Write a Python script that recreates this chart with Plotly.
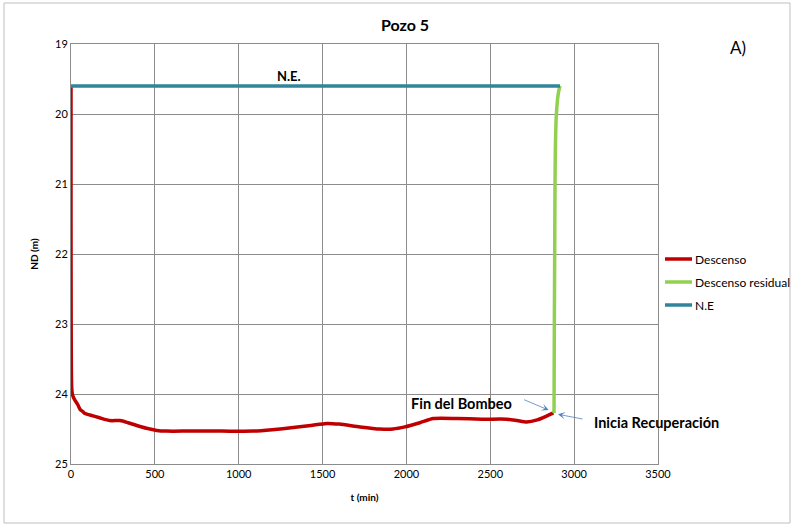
import plotly.graph_objects as go

# Descenso (pumping drawdown)
t_descenso = [0, 0, 1, 2, 4, 8, 15, 24, 40, 54, 70, 83, 113, 170, 232, 292, 340, 392, 450, 511, 570,
              700, 900, 1087, 1200, 1325, 1430, 1525, 1600, 1723, 1842, 1920, 1991, 2080, 2160,
              2300, 2450, 2598, 2660, 2717, 2780, 2840, 2876]
nd_descenso = [19.6, 21.5, 23.0, 23.6, 23.9, 24.0, 24.05, 24.09, 24.15, 24.22, 24.25, 24.28, 24.30, 24.34, 24.38, 24.38, 24.41, 24.45, 24.49, 24.52, 24.53,
               24.53, 24.53, 24.53, 24.51, 24.48, 24.45, 24.42, 24.43, 24.47, 24.50, 24.50, 24.47, 24.41, 24.35,
               24.35, 24.36, 24.36, 24.38, 24.40, 24.37, 24.31, 24.27]

# Descenso residual (recovery)
t_residual = [2880, 2882, 2884, 2886, 2888, 2892, 2897, 2903, 2910, 2916]
nd_residual = [24.27, 23.0, 22.0, 21.0, 20.5, 20.1, 19.9, 19.75, 19.65, 19.6]

# N.E (static level)
t_ne = [0, 2916]
nd_ne = [19.6, 19.6]

x_ticks = [0, 500, 1000, 1500, 2000, 2500, 3000, 3500]
y_ticks = [19, 20, 21, 22, 23, 24, 25]

series_names = ["Descenso", "Descenso residual", "N.E"]
series_colors = ["#C00000", "#92D050", "#31849B"]

FONT = "Lato, 'Liberation Sans', sans-serif"
GRID = "#8c8c8c"

# plot area in pixels (reference)
L, R, T, B = 71, 658, 44, 464
W, H = R - L, B - T


def px_x(p):
    return (p - L) / W


def px_y(p):
    return (B - p) / H


fig = go.Figure()
fig.add_trace(go.Scatter(x=t_descenso, y=nd_descenso, mode="lines", name=series_names[0],
                         line=dict(color=series_colors[0], width=3.5, shape="spline", smoothing=0.6)))
fig.add_trace(go.Scatter(x=t_residual, y=nd_residual, mode="lines", name=series_names[1],
                         line=dict(color=series_colors[1], width=3.5, shape="spline", smoothing=0.5)))
fig.add_trace(go.Scatter(x=t_ne, y=nd_ne, mode="lines", name=series_names[2],
                         line=dict(color=series_colors[2], width=3.5)))

annots = [
    dict(x=1300, y=19.45, text="<b>N.E.</b>", showarrow=False, font=dict(size=13)),
    dict(x=2330, y=24.13, text="<b>Fin del Bombeo</b>", showarrow=False, font=dict(size=14.5)),
    dict(x=3494, y=24.4, text="<b>Inicia Recuperación</b>", showarrow=False, font=dict(size=14.5)),
    dict(x=2848, y=24.23, ax=-26, ay=-11, text="", showarrow=True, arrowhead=3,
         arrowwidth=0.8, arrowsize=1.5, arrowcolor="#4F81BD"),
    dict(x=2904, y=24.29, ax=26, ay=5, text="", showarrow=True, arrowhead=3,
         arrowwidth=0.8, arrowsize=1.5, arrowcolor="#4F81BD"),
    dict(xref="paper", yref="paper", x=px_x(748), y=px_y(35), text="A)",
         showarrow=False, font=dict(size=17)),
]

shapes = [dict(type="rect", xref="paper", yref="paper",
               x0=px_x(4), x1=px_x(790), y0=px_y(523), y1=px_y(3),
               line=dict(color="#bfbfbf", width=1), layer="below")]

# manual legend (right side, overflowing the canvas like the reference)
legend_y = [259, 282, 305]
for name, col, ly in zip(series_names, series_colors, legend_y):
    shapes.append(dict(type="line", xref="paper", yref="paper",
                       x0=px_x(665), x1=px_x(692), y0=px_y(ly), y1=px_y(ly),
                       line=dict(color=col, width=3.5)))
    annots.append(dict(xref="paper", yref="paper", x=px_x(693), y=px_y(ly), text=name,
                       xanchor="left", yanchor="middle", showarrow=False, font=dict(size=12)))

fig.update_layout(
    width=792, height=525,
    margin=dict(l=L, r=792 - R, t=T, b=525 - B),
    paper_bgcolor="white", plot_bgcolor="white",
    font=dict(family=FONT, size=11, color="black"),
    title=dict(text="<b>Pozo 5</b>", x=405 / 792, xanchor="center", y=1 - 25 / 525,
               yanchor="middle", font=dict(size=16)),
    showlegend=False,
    annotations=annots,
    shapes=shapes,
)
fig.update_xaxes(range=[0, 3500], tickvals=x_ticks, showgrid=True, gridcolor=GRID, gridwidth=1,
                 showline=True, linecolor=GRID, mirror=True, zeroline=False, automargin=False,
                 ticks="", tickfont=dict(size=11),
                 title=dict(text="<b>t (min)</b>", font=dict(size=10), standoff=14))
fig.update_yaxes(range=[25, 19], tickvals=y_ticks, showgrid=True, gridcolor=GRID, gridwidth=1,
                 showline=True, linecolor=GRID, mirror=True, zeroline=False, automargin=False,
                 ticks="", tickfont=dict(size=11),
                 title=dict(text="<b>ND (m)</b>", font=dict(size=10), standoff=14))

fig.write_html("out.html", config={"displayModeBar": False},
               post_script="document.body.style.margin='0';")
